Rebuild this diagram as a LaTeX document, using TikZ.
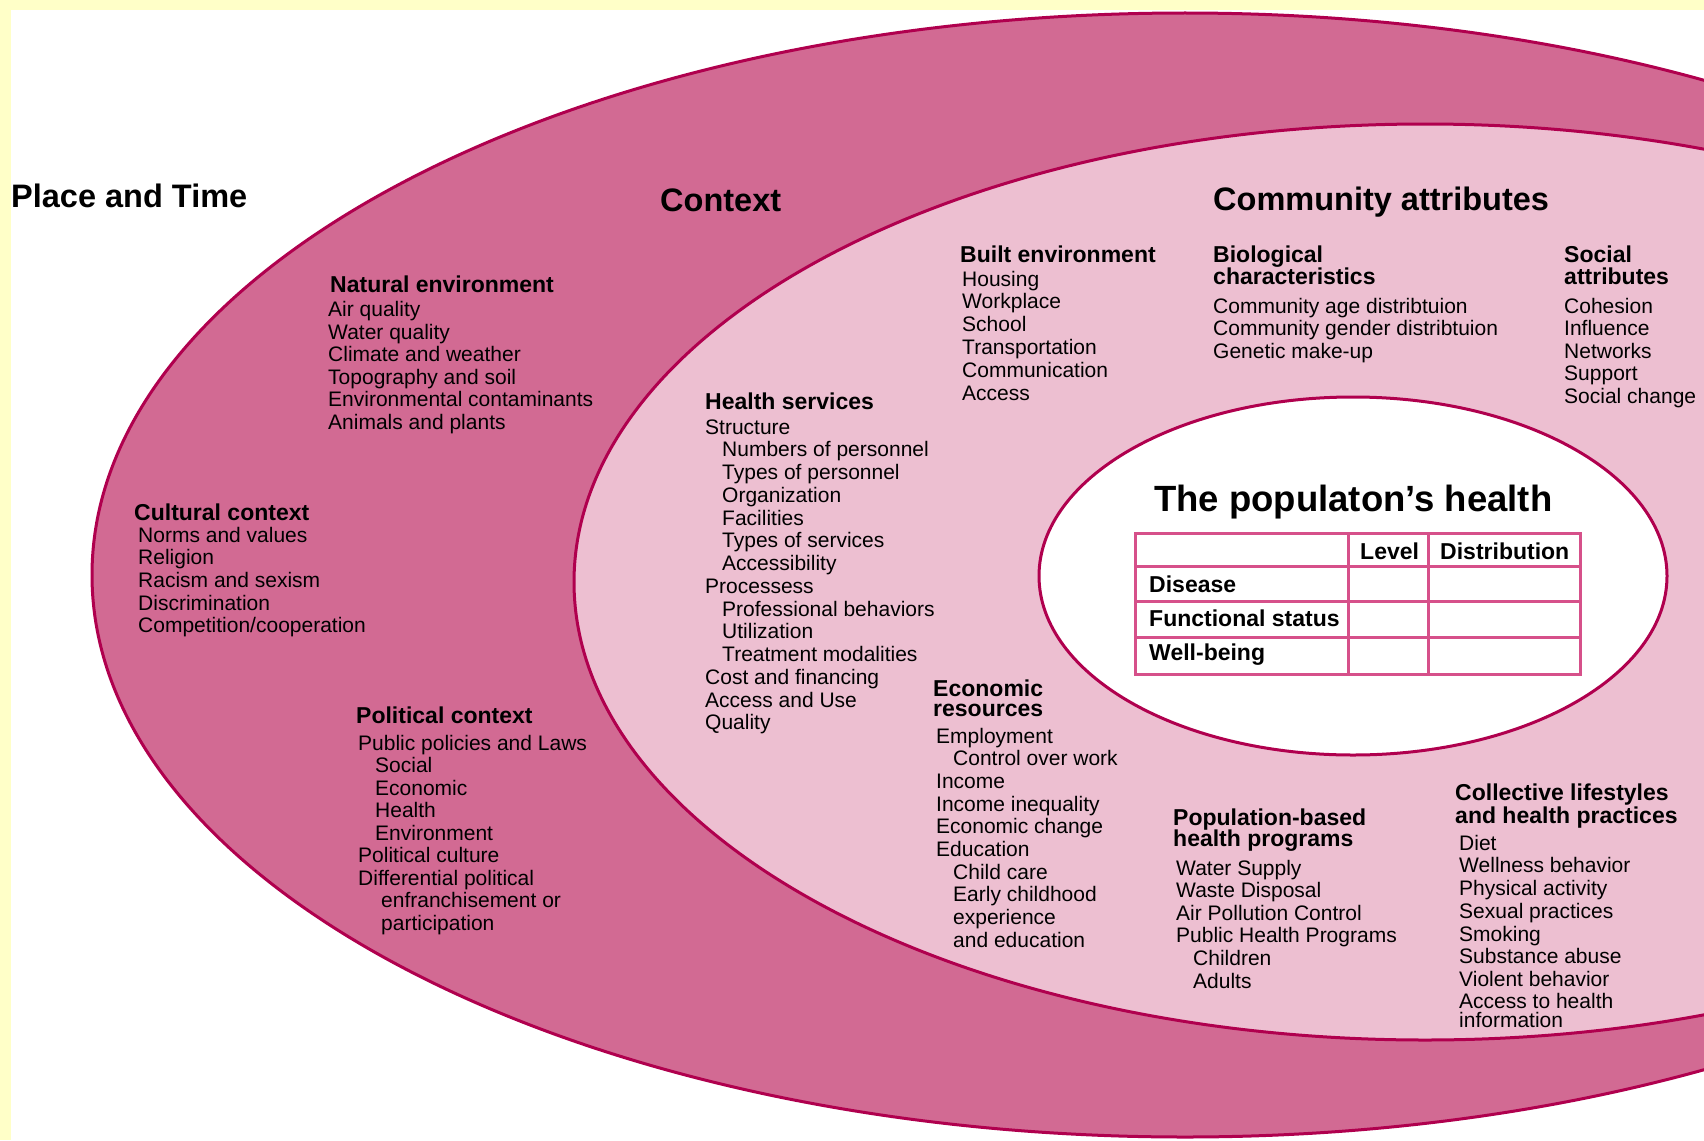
\documentclass[tikz,border=0pt]{standalone}
\usepackage{fontspec}
\setmainfont{Liberation Sans}
\definecolor{pagebg}{HTML}{FFFFC8}
\definecolor{contextpink}{HTML}{D26A93}
\definecolor{communitypink}{HTML}{EDBFD1}
\definecolor{rimred}{HTML}{B0004E}
\definecolor{gridpink}{HTML}{D6508A}
\tikzset{
	title/.style={anchor=base west, inner sep=0pt, font=\fontsize{32.5}{36}\selectfont\bfseries},
	head/.style={anchor=base west, inner sep=0pt, font=\fontsize{23}{25}\selectfont\bfseries},
	item/.style={anchor=base west, inner sep=0pt, font=\fontsize{21}{23}\selectfont},
	cell/.style={anchor=base west, inner sep=0pt, font=\fontsize{23}{25}\selectfont\bfseries},
	rim/.style={draw=rimred, line width=3pt},
	grid/.style={draw=gridpink, line width=3pt}
}
\newcommand{\ind}{\hspace*{17pt}}
\begin{document}
\begin{tikzpicture}[x=1pt,y=-1pt]
		\useasboundingbox (0,0) rectangle (1704,1140);
		\fill[pagebg] (0,0) rectangle (1704,1140);
		\fill[white] (11,10) rectangle (1704,1140);
		% the three rings
		\begin{scope}
			\clip (11,10) rectangle (1704,1140);
			\filldraw[rim, fill=contextpink] (1185,575) ellipse [x radius=1093, y radius=562];
			\filldraw[rim, fill=communitypink] (1425,582) ellipse [x radius=851, y radius=458];
		\end{scope}
		\filldraw[rim, fill=white] (1353,576) ellipse [x radius=314, y radius=179];
		% table
		\draw[grid] (1135,533) rectangle (1580,674);
		\foreach \y in {566,601,637}
			\draw[grid] (1135,\y) -- (1580,\y);
		\foreach \x in {1348,1428}
			\draw[grid] (\x,533) -- (\x,674);
		\node[cell] (level) at (1360,559) {Level};
		\node[cell] (distribution) at (1440,559) {Distribution};
		\node[cell] (disease) at (1149,592) {Disease};
		\node[cell] (functional) at (1149,626) {Functional status};
		\node[cell] (wellbeing) at (1149,660) {Well-being};
		% titles
		\node[title] (place) at (11,207) {Place and Time};
		\node[title] (context) at (660,211) {Context};
		\node[title] (community) at (1213,210) {Community attributes};
		\node[title, font=\fontsize{36.5}{40}\selectfont\bfseries] (health) at (1154,511) {The populaton’s health};
		% context blocks
		\node[head] (natural) at (330,292) {Natural environment};
		\foreach \t [count=\i from 0] in {Air quality, Water quality, Climate and weather,
				Topography and soil, Environmental contaminants, Animals and plants}
			\node[item] (natural-\i) at (328,316.5+22.6*\i) {\t};
		\node[head] (cultural) at (134,520) {Cultural context};
		\foreach \t [count=\i from 0] in {Norms and values, Religion, Racism and sexism,
				Discrimination, Competition/cooperation}
			\node[item] (cultural-\i) at (138,542+22.7*\i) {\t};
		\node[head] (political) at (356,723) {Political context};
		\foreach \t [count=\i from 0] in {Public policies and Laws, \ind Social, \ind Economic,
				\ind Health, \ind Environment, Political culture, Differential political,
				\hspace*{23pt}enfranchisement or, \hspace*{23pt}participation}
			\node[item] (political-\i) at (358,750+22.5*\i) {\t};
		% community blocks
		\node[head] (services) at (705,409) {Health services};
		\foreach \t [count=\i from 0] in {Structure, \ind Numbers of personnel, \ind Types of personnel,
				\ind Organization, \ind Facilities, \ind Types of services, \ind Accessibility,
				Processess, \ind Professional behaviors, \ind Utilization, \ind Treatment modalities,
				Cost and financing, Access and Use, Quality}
			\node[item] (services-\i) at (705,434+22.75*\i) {\t};
		\node[head] (built) at (960,262) {Built environment};
		\foreach \t [count=\i from 0] in {Housing, Workplace, School, Transportation,
				Communication, Access}
			\node[item] (built-\i) at (962,286+22.8*\i) {\t};
		\node[head] (bio) at (1213,262) {Biological};
		\node[head] (bio2) at (1213,284) {characteristics};
		\foreach \t [count=\i from 0] in {Community age distribtuion, Community gender distribtuion,
				Genetic make-up}
			\node[item] (bio-\i) at (1213,313+22.5*\i) {\t};
		\node[head] (social) at (1564,262) {Social};
		\node[head] (social2) at (1564,284) {attributes};
		\foreach \t [count=\i from 0] in {Cohesion, Influence, Networks, Support, Social change}
			\node[item] (social-\i) at (1564,313+22.5*\i) {\t};
		\node[head] (economic) at (933,696) {Economic};
		\node[head] (economic2) at (933,716) {resources};
		\foreach \t [count=\i from 0] in {Employment, \ind Control over work, Income,
				Income inequality, Economic change, Education, \ind Child care,
				\ind Early childhood, \ind experience, \ind and education}
			\node[item] (economic-\i) at (936,743+22.7*\i) {\t};
		\node[head] (programs) at (1173,825) {Population-based};
		\node[head] (programs2) at (1173,846) {health programs};
		\foreach \t [count=\i from 0] in {Water Supply, Waste Disposal, Air Pollution Control,
				Public Health Programs, \ind Children, \ind Adults}
			\node[item] (programs-\i) at (1176,875+22.6*\i) {\t};
		\node[head] (lifestyles) at (1455,800) {Collective lifestyles};
		\node[head] (lifestyles2) at (1455,823) {and health practices};
		\foreach \t [count=\i from 0] in {Diet, Wellness behavior, Physical activity,
				Sexual practices, Smoking, Substance abuse, Violent behavior}
			\node[item] (lifestyles-\i) at (1459,850+22.75*\i) {\t};
		\node[item, align=left] (lifestyles-info) at (1459,1027) {Access to health\\[-4.5pt]information};
	\end{tikzpicture}
\end{document}
